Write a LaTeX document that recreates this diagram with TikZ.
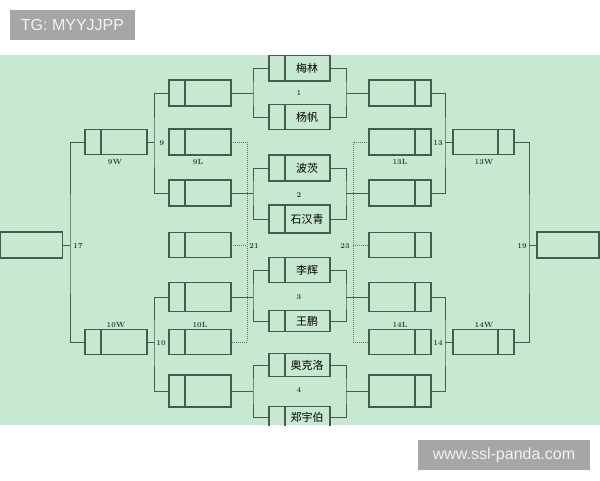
\documentclass[tikz,border=0pt]{standalone}
\usepackage{fontspec}
\usepackage{tikz}
\newfontfamily\cjk{Noto Sans CJK SC}
\newfontfamily\wmfont{Liberation Sans}
\definecolor{field}{RGB}{199,233,209}
\definecolor{ink}{RGB}{70,92,76}
\definecolor{mark}{RGB}{166,166,166}
\newcommand{\cname}[1]{\hspace*{15pt}\makebox[46pt]{\cjk\fontsize{11}{12}\selectfont #1}}

\begin{document}
\begin{tikzpicture}[x=1pt, y=-1pt,
  box/.style={draw=ink, line width=1.1pt, minimum width=62pt, minimum height=26pt, inner sep=0pt, outer sep=0pt},
  divl/.style={path picture={\draw [ink, line width=1.1pt] ([xshift=16pt]path picture bounding box.north west) -- ([xshift=16pt]path picture bounding box.south west);}},
  divr/.style={path picture={\draw [ink, line width=1.1pt] ([xshift=-16pt]path picture bounding box.north east) -- ([xshift=-16pt]path picture bounding box.south east);}},
  lbl/.style={font=\fontsize{7.5}{8}\selectfont\bfseries, text=ink!75!black, inner sep=1pt},
  wire/.style={draw=ink, line width=1pt},
  dots/.style={draw=ink!85, line width=0.7pt, dash pattern=on 1pt off 1pt},
  wm/.style={fill=mark, text=white!95!black, font=\wmfont\fontsize{16}{18}\selectfont, inner sep=0pt}]
  \useasboundingbox (0,0) rectangle (600,480);
  \fill [white] (0,0) rectangle (600,480);
  \fill [field] (0,55) rectangle (600,425);
  \begin{scope}
  \clip (0,55) rectangle (600,425);
  % left half
  \node [box] (LF) at (31.5,245) {};
  \node [box, divl, minimum height=25pt] (LW9) at (116,142) {};
  \node [box, divl, minimum height=25pt] (LW10) at (116,342) {};
  \node [box, divl] (L1) at (200,93) {};
  \node [box, divl] (L2) at (200,142) {};
  \node [box, divl] (L3) at (200,193) {};
  \node [box, divl, minimum height=25pt] (L4) at (200,245) {};
  \node [box, divl, minimum height=29pt] (L5) at (200,297) {};
  \node [box, divl, minimum height=25pt] (L6) at (200,342) {};
  \node [box, divl, minimum height=32pt] (L7) at (200,391) {};
  % centre
  \node [box, divl, minimum width=61pt] (C1) at (299.5,68) {\cname{梅林}};
  \node [box, divl, minimum width=61pt, minimum height=25pt] (C2) at (299.5,117) {\cname{杨帆}};
  \node [box, divl, minimum width=61pt] (C3) at (299.5,168) {\cname{波茨}};
  \node [box, divl, minimum width=61pt, minimum height=28pt] (C4) at (299.5,219) {\cname{石汉青}};
  \node [box, divl, minimum width=61pt, minimum height=25pt] (C5) at (299.5,270) {\cname{李辉}};
  \node [box, divl, minimum width=61pt, minimum height=21pt] (C6) at (299.5,321) {\cname{王鹏}};
  \node [box, divl, minimum width=61pt, minimum height=23pt] (C7) at (299.5,365) {\cname{奥克洛}};
  \node [box, divl, minimum width=61pt, minimum height=21pt] (C8) at (299.5,417) {\cname{郑宇伯}};
  % right half
  \node [box, divr] (R1) at (400,93) {};
  \node [box, divr] (R2) at (400,142) {};
  \node [box, divr] (R3) at (400,193) {};
  \node [box, divr, minimum height=25pt] (R4) at (400,245) {};
  \node [box, divr, minimum height=29pt] (R5) at (400,297) {};
  \node [box, divr, minimum height=25pt] (R6) at (400,342) {};
  \node [box, divr, minimum height=32pt] (R7) at (400,391) {};
  \node [box, divr, minimum width=61pt, minimum height=25pt] (RW13) at (483.5,142) {};
  \node [box, divr, minimum width=61pt, minimum height=25pt] (RW14) at (483.5,342) {};
  \node [box] (RF) at (568,245) {};

  \coordinate (J17) at (70,245);
  \coordinate (J9) at (154,142);
  \coordinate (J10) at (154,342);
  \coordinate (J21) at (247,245);
  \coordinate (M1L) at (253,93);
  \coordinate (M2L) at (253,193);
  \coordinate (M3L) at (253,297);
  \coordinate (M4L) at (253,391);
  \coordinate (M1R) at (346,93);
  \coordinate (M2R) at (346,193);
  \coordinate (M3R) at (346,297);
  \coordinate (M4R) at (346,391);
  \coordinate (J23) at (353,245);
  \coordinate (J13) at (445,142);
  \coordinate (J14) at (445,342);
  \coordinate (J19) at (529,245);

  \draw [wire] (LW9.west) -| (J17) |- (LW10.west);
  \draw [wire] (LF.east) -- (J17);
  \draw [wire] (L1.west) -| (J9) |- (L3.west);
  \draw [wire] (LW9.east) -- (J9);
  \draw [wire] (L5.west) -| (J10) |- (L7.west);
  \draw [wire] (LW10.east) -- (J10);
  \draw [dots] (L2.east) -| (J21) |- (L6.east);
  \draw [dots] (L4.east) -- (J21);
  \draw [wire] (C1.west) -| (M1L) |- (C2.west);
  \draw [wire] (L1.east) -- (M1L);
  \draw [wire] (C3.west) -| (M2L) |- (C4.west);
  \draw [wire] (L3.east) -- (M2L);
  \draw [wire] (C5.west) -| (M3L) |- (C6.west);
  \draw [wire] (L5.east) -- (M3L);
  \draw [wire] (C7.west) -| (M4L) |- (C8.west);
  \draw [wire] (L7.east) -- (M4L);
  \draw [wire] (C1.east) -| (M1R) |- (C2.east);
  \draw [wire] (M1R) -- (R1.west);
  \draw [wire] (C3.east) -| (M2R) |- (C4.east);
  \draw [wire] (M2R) -- (R3.west);
  \draw [wire] (C5.east) -| (M3R) |- (C6.east);
  \draw [wire] (M3R) -- (R5.west);
  \draw [wire] (C7.east) -| (M4R) |- (C8.east);
  \draw [wire] (M4R) -- (R7.west);
  \draw [dots] (R2.west) -| (J23) |- (R6.west);
  \draw [dots] (J23) -- (R4.west);
  \draw [wire] (R1.east) -| (J13) |- (R3.east);
  \draw [wire] (J13) -- (RW13.west);
  \draw [wire] (R5.east) -| (J14) |- (R7.east);
  \draw [wire] (J14) -- (RW14.west);
  \draw [wire] (RW13.east) -| (J19) |- (RW14.east);
  \draw [wire] (J19) -- (RF.west);

  % match numbers
  \node [lbl] (N17) at (78,246) {17};
  \node [lbl] (N9) at (162,143) {9};
  \node [lbl] (N10) at (161,343) {10};
  \node [lbl] (N21) at (254,246) {21};
  \node [lbl] (N1) at (299,93) {1};
  \node [lbl] (N2) at (299,195) {2};
  \node [lbl] (N3) at (299,297) {3};
  \node [lbl] (N4) at (299,390) {4};
  \node [lbl] (N23) at (345,246) {23};
  \node [lbl] (N13) at (438,143) {13};
  \node [lbl] (N14) at (438,343) {14};
  \node [lbl] (N19) at (522,246) {19};
  \node [lbl] (T9W) at (115,162) {9W};
  \node [lbl] (T9L) at (198,162) {9L};
  \node [lbl] (T10W) at (116,325) {10W};
  \node [lbl] (T10L) at (200,325) {10L};
  \node [lbl] (T13L) at (400,162) {13L};
  \node [lbl] (T13W) at (484,162) {13W};
  \node [lbl] (T14L) at (400,325) {14L};
  \node [lbl] (T14W) at (484,325) {14W};
  \end{scope}

  \node [wm, minimum width=125pt, minimum height=30pt] (TG) at (72.5,25) {TG: MYYJJPP};
  \node [wm, minimum width=172pt, minimum height=30pt] (WEB) at (504,455) {www.ssl-panda.com};
\end{tikzpicture}
\end{document}
